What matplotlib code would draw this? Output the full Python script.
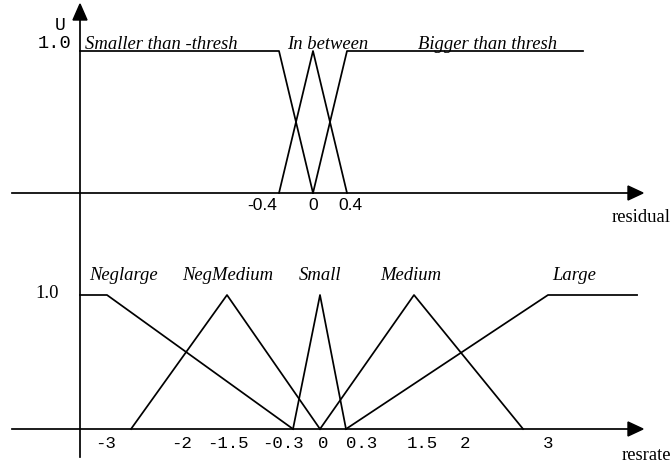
import numpy as np
import matplotlib
matplotlib.use('Agg')
import matplotlib.pyplot as plt
from matplotlib.patches import Polygon

# residual: membership functions of the upper diagram
residual_ticks = [-0.4, 0, 0.4]
residual_tick_labels = ['-0.4', '0', '0.4']
smaller_x = [-2.75, -0.4, 0]
smaller_u = [1, 1, 0]
between_x = [-0.4, 0, 0.4]
between_u = [0, 1, 0]
bigger_x = [0, 0.4, 3.2]
bigger_u = [0, 1, 1]

# resrate: membership functions of the lower diagram
rate_ticks = [-3, -2, -1.5, -0.3, 0, 0.3, 1.5, 2, 3]
rate_tick_labels = ['-3', '-2', '-1.5', '-0.3', '0', '0.3', '1.5', '2', '3']
neglarge_x = [-3.4, -3, -0.3]
neglarge_u = [1, 1, 0]
negmedium_x = [-2.7, -1.5, 0]
negmedium_u = [0, 1, 0]
small_x = [-0.3, 0, 0.3]
small_u = [0, 1, 0]
medium_x = [0, 1.5, 2.7]
medium_u = [0, 1, 0]
large_x = [0.3, 3, 3.75]
large_u = [0, 1, 1]

W, H = 671, 463
SERIF = 'Liberation Serif'
MONO = 'Liberation Mono'
SANS = 'Liberation Sans'
LW = 1.25

fig = plt.figure(figsize=(W / 100, H / 100), dpi=100)

# overlay in pixel units for the axis arrows and free labels
ov = fig.add_axes([0, 0, 1, 1])
ov.set_xlim(0, W)
ov.set_ylim(H, 0)
ov.axis('off')


def frame(x0, x1, y_zero, y_one):
    return [x0 / W, 1 - y_zero / H, (x1 - x0) / W, (y_zero - y_one) / H]


def schematic_axes(rect, knot_vals, knot_px):
    # the drawing is not to scale: map values onto the axis piecewise
    ax = fig.add_axes(rect)
    ax.set_facecolor('none')
    fwd = lambda v: np.interp(v, knot_vals, knot_px)
    inv = lambda p: np.interp(p, knot_px, knot_vals)
    ax.set_xscale('function', functions=(fwd, inv))
    ax.set_xlim(knot_vals[0], knot_vals[-1])
    ax.set_ylim(0, 1)
    ax.set_xticks([])
    ax.set_yticks([])
    for s in ax.spines.values():
        s.set_visible(False)
    return ax


def tick_labels(ax, ticks, labels, nudges, drop, family, size, has=None):
    for i, (v, lab) in enumerate(zip(ticks, labels)):
        ax.annotate(lab, xy=(v, 0), xycoords=('data', 'axes fraction'),
                    xytext=(nudges[i], -drop), textcoords='offset pixels',
                    ha=has[i] if has else 'center', va='center',
                    family=family, fontsize=size)


# upper diagram
top = schematic_axes(frame(12, 643, 193, 51),
                     [-3.55, -2.75, -0.4, 0, 0.4, 3.2, 3.9],
                     [12, 80, 279, 313, 347, 583, 643])
for xs, us in [(smaller_x, smaller_u), (between_x, between_u), (bigger_x, bigger_u)]:
    top.plot(xs, us, color='black', lw=LW, clip_on=False)
tick_labels(top, residual_ticks, residual_tick_labels, [-2, 0, 3], 12,
            SANS, 12.5, has=['right', 'center', 'center'])

# lower diagram
bot = schematic_axes(frame(12, 643, 429, 295),
                     [-4.2, -3.4, -3, -2, -1.5, -0.3, 0, 0.3, 1.5, 2, 3, 3.8],
                     [12, 80, 107, 187, 227, 293, 320, 346, 414, 465, 548, 643])
for xs, us in [(neglarge_x, neglarge_u), (negmedium_x, negmedium_u),
               (small_x, small_u), (medium_x, medium_u), (large_x, large_u)]:
    bot.plot(xs, us, color='black', lw=LW, clip_on=False)
tick_labels(bot, rate_ticks, rate_tick_labels,
            [-1, -5, 1, -10, 3, 16, 8, 0, 0], 14, MONO, 12.5)

# axes with arrow heads
ov.plot([80, 80], [18, 457], color='black', lw=LW)
ov.add_patch(Polygon([(80, 4), (73, 20), (87, 20)], closed=True, color='black'))
for y in (193, 429):
    ov.plot([12, 630], [y, y], color='black', lw=LW)
    ov.add_patch(Polygon([(643, y), (628, y - 7), (628, y + 7)], closed=True, color='black'))

ov.text(60, 25, 'U', family=MONO, fontsize=13, ha='center', va='center')
ov.text(55, 44, '1.0', family=MONO, fontsize=13.5, ha='center', va='center')
ov.text(47.5, 294, '1.0', family=SERIF, fontsize=13.4, ha='center', va='center')
ov.text(641, 217, 'residual', family=SERIF, fontsize=13.4, ha='center', va='center')
ov.text(646, 456, 'resrate', family=SERIF, fontsize=13.4, ha='center', va='center')

names = dict(family=SERIF, style='italic', fontsize=13.4, va='baseline')
ov.text(85, 49, 'Smaller than -thresh', ha='left', **names)
ov.text(328, 49, 'In between', ha='center', **names)
ov.text(488, 49, 'Bigger than thresh', ha='center', **names)
ov.text(123, 280, 'Neglarge', ha='center', **names)
ov.text(228, 280, 'NegMedium', ha='center', **names)
ov.text(320, 280, 'Small', ha='center', **names)
ov.text(411, 280, 'Medium', ha='center', **names)
ov.text(574, 280, 'Large', ha='center', **names)

fig.savefig('out.png', dpi=100)
